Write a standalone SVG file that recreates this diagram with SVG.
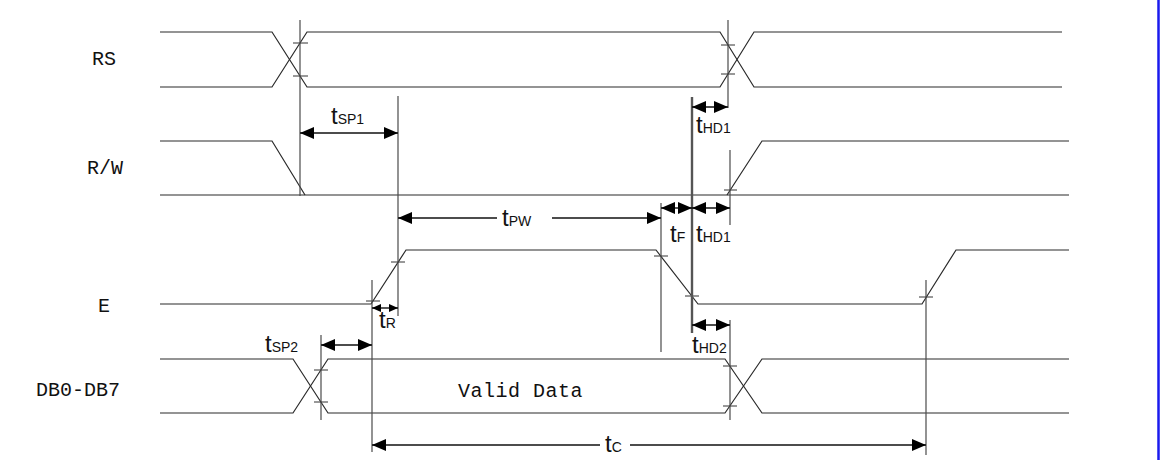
<svg xmlns="http://www.w3.org/2000/svg" width="1160" height="460" viewBox="0 0 1160 460">
  <style>
    .sig { fill: none; stroke: #2a2a2a; stroke-width: 1.2; }
    .ref { fill: none; stroke: #4a4a4a; stroke-width: 1.2; }
    .thick { fill: none; stroke: #555; stroke-width: 2.4; }
    .tick { fill: none; stroke: #333; stroke-width: 1; }
    .dim { fill: none; stroke: #111; stroke-width: 1.4; }
    .lbl { font-family: "Liberation Mono", "DejaVu Sans Mono", monospace; font-size: 20px; fill: #111; }
    .t { font-family: "Liberation Sans", Arial, sans-serif; font-size: 24px; fill: #111; }
    .s { font-family: "Liberation Sans", Arial, sans-serif; font-size: 14px; fill: #111; }
  </style>
  <defs>
    <marker id="ah" viewBox="0 0 14 12" refX="14" refY="6" markerWidth="14" markerHeight="12" markerUnits="userSpaceOnUse" orient="auto-start-reverse">
      <path d="M0,0 L14,6 L0,12 Z" fill="#000"/>
    </marker>
    <marker id="as" viewBox="0 0 9 8" refX="9" refY="4" markerWidth="9" markerHeight="8" markerUnits="userSpaceOnUse" orient="auto-start-reverse">
      <path d="M0,0 L9,4 L0,8 Z" fill="#000"/>
    </marker>
  </defs>
  <rect x="0" y="0" width="1160" height="460" fill="#ffffff"/>
  <line x1="1158.5" y1="0" x2="1158.5" y2="460" stroke="#1a1aee" stroke-width="2.5"/>

  <g id="RS">
    <text class="lbl" x="92" y="65">RS</text>
    <path class="sig" d="M160 32 H272 L307 87 H720 L754 32 H1062"/>
    <path class="sig" d="M160 87 H272 L307 32 H720 L754 87 H1062"/>
    <path class="tick" d="M293 43 H308 M293 76 H308 M721 45 H735 M721 74 H735"/>
  </g>

  <g id="RW">
    <text class="lbl" x="87" y="174">R/W</text>
    <path class="sig" d="M160 141 H272 L305 195"/>
    <path class="sig" d="M160 195 H1069"/>
    <path class="sig" d="M727 195 L762 141 H1069"/>
    <path class="tick" d="M724 190 H737"/>
  </g>

  <g id="E">
    <text class="lbl" x="98" y="312">E</text>
    <path class="sig" d="M160 304 H371 L406 250 H656 L698 304 H922 L956 250 H1069"/>
    <path class="tick" d="M366 301 H380 M391 262 H405 M654 256 H668 M685 296 H699 M919 297 H933"/>
  </g>

  <g id="DB">
    <text class="lbl" x="36" y="396">DB0-DB7</text>
    <path class="sig" d="M160 359 H293 L328 413 H725 L762 359 H1069"/>
    <path class="sig" d="M160 413 H293 L328 359 H725 L762 413 H1069"/>
    <path class="tick" d="M314 370 H328 M314 402 H328 M723 366 H737 M723 406 H737"/>
    <text class="lbl" x="458" y="397" style="letter-spacing:0.5px">Valid Data</text>
  </g>

  <g id="references">
    <line class="ref" x1="300" y1="20" x2="300" y2="196"/>
    <line class="ref" x1="728" y1="20" x2="728" y2="108"/>
    <line class="ref" x1="398" y1="96" x2="398" y2="316"/>
    <line class="ref" x1="372" y1="280" x2="372" y2="452"/>
    <line class="ref" x1="661" y1="203" x2="661" y2="352"/>
    <line class="thick" x1="692" y1="97" x2="692" y2="333"/>
    <line class="ref" x1="730" y1="150" x2="730" y2="225"/>
    <line class="ref" x1="730" y1="320" x2="730" y2="420"/>
    <line class="ref" x1="321" y1="335" x2="321" y2="420"/>
    <line class="ref" x1="926" y1="280" x2="926" y2="455"/>
  </g>

  <g id="connectors">
    <line class="dim" x1="300" y1="133" x2="398" y2="133" marker-start="url(#ah)" marker-end="url(#ah)"/>
    <line class="dim" x1="692" y1="107" x2="728" y2="107" marker-start="url(#ah)" marker-end="url(#ah)"/>
    <line class="dim" x1="398" y1="218" x2="497" y2="218" marker-start="url(#ah)"/>
    <line class="dim" x1="552" y1="218" x2="661" y2="218" marker-end="url(#ah)"/>
    <line class="dim" x1="661" y1="208" x2="692" y2="208" marker-start="url(#ah)" marker-end="url(#ah)"/>
    <line class="dim" x1="692" y1="208" x2="730" y2="208" marker-start="url(#ah)" marker-end="url(#ah)"/>
    <line class="dim" x1="372" y1="308" x2="398" y2="308" marker-start="url(#as)" marker-end="url(#as)"/>
    <line class="dim" x1="692" y1="325" x2="730" y2="325" marker-start="url(#ah)" marker-end="url(#ah)"/>
    <line class="dim" x1="321" y1="345" x2="372" y2="345" marker-start="url(#ah)" marker-end="url(#ah)"/>
    <line class="dim" x1="372" y1="445" x2="600" y2="445" marker-start="url(#ah)"/>
    <line class="dim" x1="630" y1="445" x2="926" y2="445" marker-end="url(#ah)"/>
  </g>

  <g id="labels">
    <text x="331" y="124"><tspan class="t">t</tspan><tspan class="s">SP1</tspan></text>
    <text x="696" y="133"><tspan class="t">t</tspan><tspan class="s">HD1</tspan></text>
    <text x="502" y="226"><tspan class="t">t</tspan><tspan class="s">PW</tspan></text>
    <text x="670" y="242"><tspan class="t">t</tspan><tspan class="s">F</tspan></text>
    <text x="696" y="242"><tspan class="t">t</tspan><tspan class="s">HD1</tspan></text>
    <text x="379" y="328"><tspan class="t">t</tspan><tspan class="s">R</tspan></text>
    <text x="692" y="353"><tspan class="t">t</tspan><tspan class="s">HD2</tspan></text>
    <text x="265" y="352"><tspan class="t">t</tspan><tspan class="s">SP2</tspan></text>
    <text x="605" y="452"><tspan class="t">t</tspan><tspan class="s">C</tspan></text>
  </g>
</svg>
